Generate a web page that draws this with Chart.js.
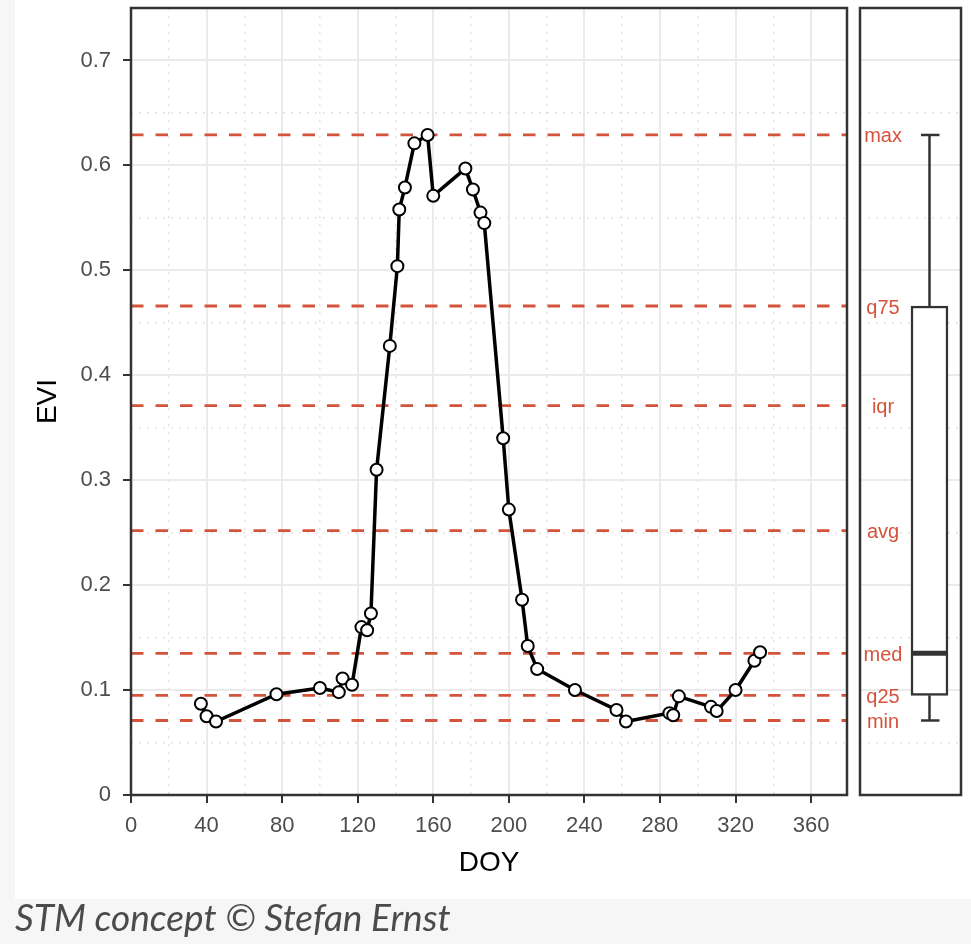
<!DOCTYPE html>
<html>
<head>
<meta charset="utf-8">
<script src="https://cdn.jsdelivr.net/npm/chart.js@4"></script>
<style>
  body { margin: 0; width: 971px; height: 944px; background: #f6f6f6; position: relative; overflow: hidden; }
  #figure { position: absolute; left: 15px; top: 0; width: 956px; height: 899px; background: #fff; }
  #main { position: absolute; left: 0; top: 0; }
  #side { position: absolute; left: 852px; top: 0; }
  #caption { position: absolute; left: 15px; top: 894px; font-family: Lato, sans-serif; font-style: italic; font-size: 37px; color: #4b4b4b; line-height: 46px; white-space: nowrap; }
</style>
</head>
<body>
<div id="figure"></div>
<canvas id="main" width="856" height="900"></canvas>
<canvas id="side" width="119" height="900"></canvas>
<div id="caption">STM concept © Stefan Ernst</div>
<script>
// EVI time series (day of year -> EVI)
const doy = [37, 40, 45, 77, 100, 110, 112, 117, 122, 125, 127, 130, 137, 141, 142, 145, 150, 157, 160,
             177, 181, 185, 187, 197, 200, 207, 210, 215, 235, 257, 262, 285, 287, 290, 307, 310, 320, 330, 333];
const evi = [0.087, 0.075, 0.070, 0.096, 0.102, 0.098, 0.111, 0.105, 0.160, 0.157, 0.173, 0.310, 0.428, 0.504, 0.558, 0.579, 0.621, 0.629, 0.571,
             0.597, 0.577, 0.555, 0.545, 0.340, 0.272, 0.186, 0.142, 0.120, 0.100, 0.081, 0.070, 0.078, 0.076, 0.094, 0.084, 0.080, 0.100, 0.128, 0.136];

// spectral-temporal metrics
const statNames = ['max', 'q75', 'iqr', 'avg', 'med', 'q25', 'min'];
const statValues = [0.629, 0.466, 0.371, 0.252, 0.135, 0.095, 0.071];

// ticks
const xTickValues = [0, 40, 80, 120, 160, 200, 240, 280, 320, 360];
const xMinorTicks = [20, 60, 100, 140, 180, 220, 260, 300, 340];
const yTickValues = [0, 0.1, 0.2, 0.3, 0.4, 0.5, 0.6, 0.7];
const yMinorTicks = [0.05, 0.15, 0.25, 0.35, 0.45, 0.55, 0.65];

const xMin = 0, xMax = 379, yMin = 0, yMax = 0.75;
const family = '"Liberation Sans", Arial, sans-serif';
const red = '#d4533b';
const dark = '#333333';

const [sMax, sQ75, sIqr, sAvg, sMed, sQ25, sMin] = statValues;

function setTicks(values) {
    return function(scale) { scale.ticks = values.map(v => ({ value: v })); };
}

// fixed axis sizes, no extra label padding
function fixSize(w, h) {
    return function(s) {
        if (w !== null) s.width = w;
        if (h !== null) s.height = h;
        s.paddingTop = 0; s.paddingBottom = 0;
        s.paddingLeft = 0; s.paddingRight = 0;
    };
}

// panel frame
const panelBorder = {
    id: 'panelBorder',
    afterDatasetsDraw(chart) {
        const a = chart.chartArea;
        const ctx = chart.ctx;
        ctx.save();
        ctx.strokeStyle = dark;
        ctx.lineWidth = 2.5;
        ctx.strokeRect(a.left, a.top, a.right - a.left, a.bottom - a.top);
        ctx.restore();
    }
};

function majorY(extra) {
    return Object.assign({
        min: yMin, max: yMax,
        afterBuildTicks: setTicks(yTickValues),
        grid: { color: '#ebebeb', lineWidth: 2 },
        border: { display: false }
    }, extra);
}
function minorY() {
    return {
        position: 'right', min: yMin, max: yMax,
        afterBuildTicks: setTicks(yMinorTicks),
        afterFit: fixSize(0, null),
        ticks: { display: false },
        grid: { color: '#e4e4e4', lineWidth: 1.5, drawTicks: false },
        border: { display: false, dash: [2, 6] }
    };
}

// main panel
new Chart(document.getElementById('main'), {
    type: 'line',
    data: {
        datasets: [{
            data: doy.map((d, i) => ({ x: d, y: evi[i] })),
            borderColor: '#000',
            borderWidth: 3.5,
            pointRadius: 6,
            pointBackgroundColor: '#fff',
            pointBorderColor: '#000',
            pointBorderWidth: 2,
            order: 0
        }].concat(statValues.map(v => ({
            data: [{ x: xMin, y: v }, { x: xMax, y: v }],
            borderColor: red,
            borderWidth: 2.8,
            borderDash: [12.5, 12],
            pointRadius: 0,
            order: 1
        })))
    },
    options: {
        responsive: false,
        animation: false,
        events: [],
        layout: { padding: { top: 8, right: 9, left: 0, bottom: 0 } },
        plugins: { legend: { display: false }, tooltip: { enabled: false } },
        scales: {
            x: {
                type: 'linear', min: xMin, max: xMax,
                afterBuildTicks: setTicks(xTickValues),
                afterFit: fixSize(null, 105),
                grid: { color: '#ebebeb', lineWidth: 2, tickLength: 8, tickColor: dark, tickWidth: 2 },
                border: { display: false },
                ticks: { color: '#4d4d4d', font: { size: 22, family: family }, padding: 10, maxRotation: 0, autoSkip: false, callback: v => String(v) },
                title: { display: true, text: 'DOY', color: '#000', font: { size: 28, family: family }, padding: { top: 0, bottom: 20 } }
            },
            x2: {
                type: 'linear', position: 'top', min: xMin, max: xMax,
                afterBuildTicks: setTicks(xMinorTicks),
                afterFit: fixSize(null, 0),
                ticks: { display: false },
                grid: { color: '#e4e4e4', lineWidth: 1.5, drawTicks: false },
                border: { display: false, dash: [2, 6] }
            },
            y: majorY({
                afterFit: fixSize(131, null),
                grid: { color: '#ebebeb', lineWidth: 2, tickLength: 8, tickColor: dark, tickWidth: 2 },
                ticks: { color: '#4d4d4d', font: { size: 22, family: family }, padding: 12, autoSkip: false, callback: v => String(v) },
                title: { display: true, text: 'EVI', color: '#000', font: { size: 28, family: family }, padding: { top: 31, bottom: 0 } }
            }),
            y2: minorY()
        }
    },
    plugins: [panelBorder]
});

// boxplot panel (positions on a dummy 0..1 axis)
const boxX = 0.688, boxL = 0.505, boxR = 0.871, capL = 0.604, capR = 0.787, labelX = 0.228;
const stroke = { type: 'line', borderColor: dark, borderWidth: 2.5, pointRadius: 0 };

const statText = {
    id: 'statText',
    afterDatasetsDraw(chart) {
        const ctx = chart.ctx;
        const x = chart.scales.x, y = chart.scales.y;
        ctx.save();
        ctx.fillStyle = red;
        ctx.font = '20px ' + family;
        ctx.textAlign = 'center';
        ctx.textBaseline = 'middle';
        statNames.forEach((n, i) => {
            ctx.fillText(n, x.getPixelForValue(labelX), y.getPixelForValue(statValues[i]) + 2);
        });
        ctx.restore();
    }
};

new Chart(document.getElementById('side'), {
    type: 'bar',
    data: {
        datasets: [
            Object.assign({}, stroke, { data: [{ x: boxL, y: sMed }, { x: boxR, y: sMed }], borderWidth: 5, order: 0 }),
            Object.assign({}, stroke, { data: [{ x: boxX, y: sQ75 }, { x: boxX, y: sMax }], order: 1 }),
            Object.assign({}, stroke, { data: [{ x: boxX, y: sMin }, { x: boxX, y: sQ25 }], order: 1 }),
            Object.assign({}, stroke, { data: [{ x: capL, y: sMax }, { x: capR, y: sMax }], order: 1 }),
            Object.assign({}, stroke, { data: [{ x: capL, y: sMin }, { x: capR, y: sMin }], order: 1 }),
            {
                type: 'bar',
                data: [{ x: boxX, y: [sQ25, sQ75] }],
                backgroundColor: '#fff',
                borderColor: dark,
                borderWidth: 2.5,
                borderSkipped: false,
                barThickness: 37,
                order: 2
            }
        ]
    },
    options: {
        responsive: false,
        animation: false,
        events: [],
        layout: { padding: { top: 8, right: 10, left: 8, bottom: 105 } },
        plugins: { legend: { display: false }, tooltip: { enabled: false } },
        scales: {
            x: { type: 'linear', min: 0, max: 1, offset: false, display: false },
            y: majorY({
                afterFit: fixSize(0, null),
                ticks: { display: false },
                grid: { color: '#ebebeb', lineWidth: 2, drawTicks: false }
            }),
            y2: minorY()
        }
    },
    plugins: [panelBorder, statText]
});
</script>
</body>
</html>
